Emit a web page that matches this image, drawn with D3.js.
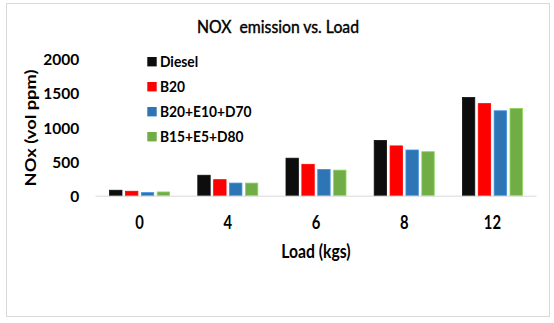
<!DOCTYPE html>
<html>
<head>
<meta charset="utf-8">
<script src="https://cdn.jsdelivr.net/npm/d3@7"></script>
<style>
  html, body { margin: 0; padding: 0; background: #fff; }
  text { font-family: Lato, "Open Sans", sans-serif; fill: #000; }
</style>
</head>
<body>
<svg id="chart" width="554" height="323"></svg>
<script>
const categories = ["0", "4", "6", "8", "12"];
const seriesNames = ["Diesel", "B20", "B20+E10+D70", "B15+E5+D80"];
const diesel = [80, 300, 550, 810, 1440];
const b20 = [65, 235, 460, 730, 1350];
const b20e10d70 = [45, 185, 385, 670, 1245];
const b15e5d80 = [55, 185, 375, 645, 1280];
const yTicks = [0, 500, 1000, 1500, 2000];
const colors = ["#0d0d0d", "#ff0000", "#2e75b6", "#70ad47"];

const seriesValues = [diesel, b20, b20e10d70, b15e5d80];
const svg = d3.select("#chart");

svg.append("rect")
  .attr("x", 6.5).attr("y", 3.5).attr("width", 543).attr("height", 313)
  .attr("fill", "#fff").attr("stroke", "#d9d9d9").attr("stroke-width", 1);

const plot = { left: 95.5, right: 536.5, top: 59.3, bottom: 195.7 };

const x0 = d3.scaleBand().domain(categories)
  .range([plot.left, plot.right]).paddingInner(0.28).paddingOuter(0.14);
const x1 = d3.scaleBand().domain(seriesNames)
  .range([0, x0.bandwidth()]).paddingInner(0.22).paddingOuter(0.11);
const y = d3.scaleLinear().domain([0, 2000]).range([plot.bottom, plot.top]);

// title
svg.append("text")
  .attr("transform", "translate(278,32.7) scale(0.944,1)")
  .attr("text-anchor", "middle")
  .style("white-space", "pre")
  .style("font-size", "16.7px")
  .attr("stroke", "#000").attr("stroke-width", 0.4)
  .text("NOX  emission vs. Load");

// bars
const groups = svg.append("g").selectAll("g")
  .data(categories).join("g")
  .attr("transform", c => `translate(${x0(c)},0)`);

groups.selectAll("rect")
  .data((c, i) => seriesNames.map((s, j) => ({ s, j, v: seriesValues[j][i] })))
  .join("rect")
  .attr("x", d => x1(d.s))
  .attr("y", d => y(d.v))
  .attr("width", x1.bandwidth())
  .attr("height", d => y(0) - y(d.v))
  .attr("fill", d => colors[d.j])
  .attr("stroke", d => d3.color(colors[d.j]).brighter(0.6))
  .attr("stroke-width", 0.8);

// x axis line
svg.append("line")
  .attr("x1", plot.left).attr("x2", plot.right)
  .attr("y1", y(0) + 0.5).attr("y2", y(0) + 0.5)
  .attr("stroke", "#d9d9d9").attr("stroke-width", 1);

// y axis
const yAxis = d3.axisLeft(y).tickValues(yTicks).tickSize(0).tickPadding(0).tickFormat(d3.format("d"));
const yg = svg.append("g").attr("transform", "translate(79.3,0)").call(yAxis);
yg.select(".domain").remove();
yg.selectAll("text")
  .attr("dy", "0.36em")
  .style("font-family", "Lato, sans-serif")
  .style("font-size", "15.5px").style("font-weight", "bold").attr("fill", "#000");

// x axis labels
const xAxis = d3.axisBottom(x0).tickSize(0).tickPadding(0);
const xg = svg.append("g").attr("transform", "translate(0,229)").call(xAxis);
xg.select(".domain").remove();
xg.selectAll("text")
  .attr("y", 0).attr("dy", "0")
  .attr("transform", "scale(0.8,1)")
  .style("font-family", "Lato, sans-serif")
  .style("font-size", "18.5px").style("font-weight", "bold").attr("fill", "#000");

// axis titles
svg.append("text")
  .attr("transform", "translate(316,258) scale(0.85,1)")
  .attr("text-anchor", "middle")
  .style("font-size", "18.5px").style("font-weight", "bold")
  .text("Load (kgs)");

svg.append("text")
  .attr("transform", "translate(35.5,128) rotate(-90) scale(1.28,1)")
  .attr("text-anchor", "middle")
  .style("font-size", "14.3px").style("font-weight", "bold")
  .text("NOx (vol ppm)");

// legend
const legend = svg.append("g").selectAll("g")
  .data(seriesNames).join("g")
  .attr("transform", (d, i) => `translate(147.3,${61.7 + i * 25})`);
legend.append("rect")
  .attr("x", 0).attr("y", -4.7).attr("width", 9.4).attr("height", 9.4)
  .attr("fill", (d, i) => colors[i]);
legend.append("text")
  .attr("transform", "translate(12.7,0) scale(0.88,1)")
  .attr("dy", "0.36em")
  .style("font-size", "15.7px").style("font-weight", "bold")
  .text(d => d);
</script>
</body>
</html>
